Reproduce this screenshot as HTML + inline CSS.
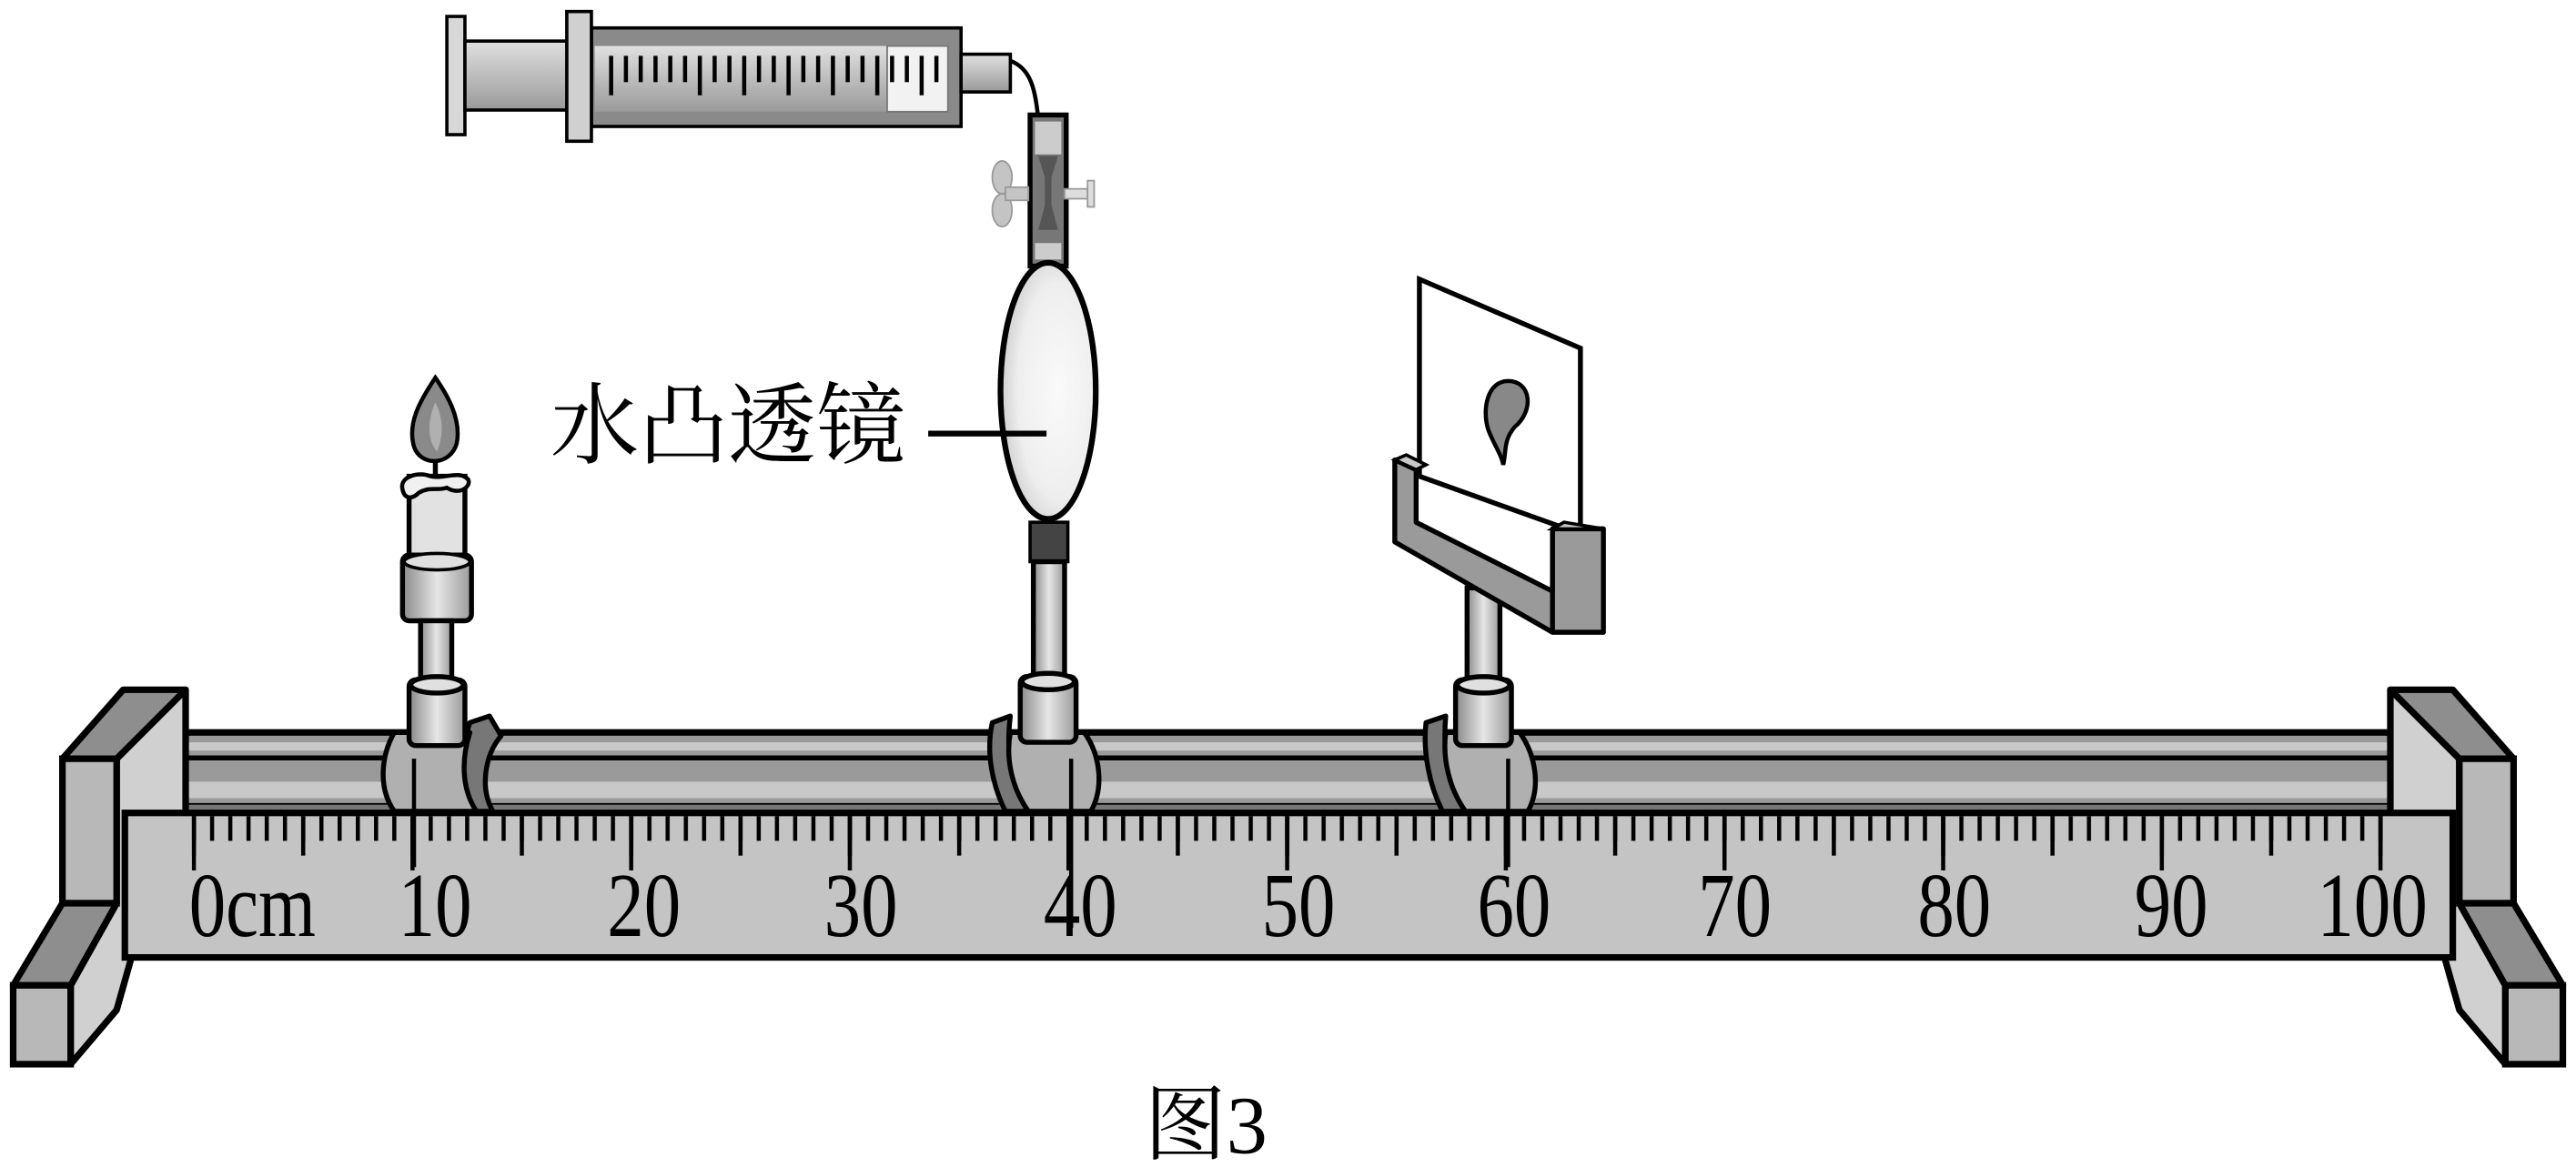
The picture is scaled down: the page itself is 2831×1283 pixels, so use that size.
<!DOCTYPE html>
<html><head><meta charset="utf-8">
<style>
html,body{margin:0;padding:0;background:#fff;}
svg{display:block;}
text{font-family:"Liberation Serif","Noto Serif CJK SC",serif;}
</style></head>
<body>
<svg width="2831" height="1283" viewBox="0 0 1568 710.6" xmlns="http://www.w3.org/2000/svg">
<defs>
<linearGradient id="vg" x1="0" y1="0" x2="0" y2="1">
<stop offset="0" stop-color="#e0e0e0"/><stop offset="1" stop-color="#9a9a9a"/></linearGradient>
<linearGradient id="hg" x1="0" y1="0" x2="1" y2="0">
<stop offset="0" stop-color="#8a8a8a"/><stop offset="0.5" stop-color="#e6e6e6"/><stop offset="1" stop-color="#9a9a9a"/></linearGradient>
<radialGradient id="lens" cx="0.6" cy="0.5" r="0.6">
<stop offset="0" stop-color="#fafafa"/><stop offset="0.7" stop-color="#eeeeee"/><stop offset="1" stop-color="#cfcfcf"/></radialGradient>
<pattern id="pS" x="116.75" y="0" width="11.0917" height="710" patternUnits="userSpaceOnUse">
<rect x="0" y="0" width="2.5" height="710" fill="#000"/></pattern>
<pattern id="pM" x="116.75" y="0" width="66.55" height="710" patternUnits="userSpaceOnUse">
<rect x="0" y="0" width="2.5" height="710" fill="#000"/></pattern>
<pattern id="pL" x="116.75" y="0" width="133.1" height="710" patternUnits="userSpaceOnUse">
<rect x="0" y="0" width="2.5" height="710" fill="#000"/></pattern>
<g id="frame">
<polygon points="1455,420 1497,462 1497,550 1525,600 1525,648 1497,615 1488,583 1455,540" fill="#d0d0d0" stroke="#000" stroke-width="4" stroke-linejoin="round"/>
<polygon points="1455,420 1493,420 1530,462 1497,462" fill="#8e8e8e" stroke="#000" stroke-width="4" stroke-linejoin="round"/>
<rect x="1497" y="462" width="33" height="88" fill="#b8b8b8" stroke="#000" stroke-width="4"/>
<polygon points="1497,550 1530,550 1560,600 1525,600" fill="#8e8e8e" stroke="#000" stroke-width="4" stroke-linejoin="round"/>
<rect x="1525" y="600" width="35" height="48" fill="#b8b8b8" stroke="#000" stroke-width="4"/>
</g>
</defs>

<!-- syringe -->
<rect x="272" y="10" width="11" height="72" fill="#d8d8d8" stroke="#000" stroke-width="2"/>
<rect x="283" y="25" width="64" height="42" fill="url(#vg)" stroke="#000" stroke-width="2"/>
<rect x="360" y="17" width="225" height="60" fill="#8a8a8a" stroke="#000" stroke-width="2"/>
<rect x="362" y="28" width="215" height="40" fill="url(#vg)"/>
<rect x="540" y="28" width="37" height="40" fill="#f2f2f2" stroke="#777" stroke-width="1"/>
<rect x="345" y="7" width="15" height="79" fill="#d0d0d0" stroke="#000" stroke-width="2"/>
<g stroke="#000" stroke-width="2.5">
<line x1="372" y1="34" x2="372" y2="58"/><line x1="390" y1="34" x2="390" y2="50"/><line x1="408" y1="34" x2="408" y2="50"/><line x1="426" y1="34" x2="426" y2="58"/><line x1="444" y1="34" x2="444" y2="50"/><line x1="462" y1="34" x2="462" y2="50"/><line x1="480" y1="34" x2="480" y2="58"/><line x1="498" y1="34" x2="498" y2="50"/><line x1="516" y1="34" x2="516" y2="50"/><line x1="534" y1="34" x2="534" y2="58"/><line x1="552" y1="34" x2="552" y2="50"/><line x1="570" y1="34" x2="570" y2="50"/>
<line x1="381" y1="34" x2="381" y2="50"/><line x1="399" y1="34" x2="399" y2="50"/><line x1="417" y1="34" x2="417" y2="50"/><line x1="435" y1="34" x2="435" y2="50"/><line x1="453" y1="34" x2="453" y2="58"/><line x1="471" y1="34" x2="471" y2="50"/><line x1="489" y1="34" x2="489" y2="50"/><line x1="507" y1="34" x2="507" y2="58"/><line x1="525" y1="34" x2="525" y2="50"/><line x1="543" y1="34" x2="543" y2="50"/><line x1="561" y1="34" x2="561" y2="58"/>
</g>
<rect x="585" y="33" width="30" height="23" fill="url(#vg)" stroke="#000" stroke-width="2"/>
<path d="M615,37 C628,42 630,55 632,72" fill="none" stroke="#000" stroke-width="2.5"/>
<!-- clamp tube -->
<rect x="627" y="70" width="22" height="92" fill="#777" stroke="#000" stroke-width="3"/>
<rect x="630" y="74" width="16" height="20" fill="#ccc"/>
<rect x="630" y="148" width="16" height="10" fill="#ccc"/>
<polygon points="632,95 644,95 640,108 640,125 644,140 632,140 636,125 636,108" fill="#555"/>
<ellipse cx="610" cy="108" rx="6" ry="10" fill="#c4c4c4" stroke="#999"/>
<ellipse cx="610" cy="128" rx="6" ry="10" fill="#c4c4c4" stroke="#999"/>
<rect x="612" y="114" width="14" height="8" fill="#c4c4c4" stroke="#999"/>
<rect x="648" y="115" width="14" height="6" fill="#ddd" stroke="#999"/>
<rect x="662" y="110" width="4" height="16" fill="#ddd" stroke="#999"/>
<!-- lens -->
<ellipse cx="638" cy="238" rx="29" ry="78" fill="url(#lens)" stroke="#000" stroke-width="3.5"/>
<rect x="627" y="318" width="23" height="24" fill="#444" stroke="#000" stroke-width="2"/>
<rect x="629" y="342" width="19" height="73" fill="url(#hg)" stroke="#000" stroke-width="3"/>
<!-- label -->
<text x="335" y="278" font-size="54">水凸透镜</text>
<line x1="565" y1="264" x2="637" y2="264" stroke="#000" stroke-width="3.5"/>

<!-- candle -->
<path d="M265,230 C255,245 248,258 252,272 C256,284 274,284 278,270 C281,255 272,240 265,230 Z" fill="#8a8a8a" stroke="#000" stroke-width="2.5"/>
<path d="M265,245 C260,256 260,268 266,275 C270,265 270,255 265,245Z" fill="#b0b0b0"/>
<line x1="265" y1="280" x2="265" y2="290" stroke="#000" stroke-width="3"/>
<rect x="249" y="290" width="34" height="50" fill="#e2e2e2" stroke="#000" stroke-width="3"/>
<path d="M245,298 C243,290 255,287 262,290 C270,292 280,286 285,292 C287,296 280,302 272,297 C266,299 262,296 255,300 C250,305 246,303 245,298Z" fill="#f0f0f0" stroke="#000" stroke-width="2.5"/>
<rect x="245" y="338" width="42" height="40" rx="4" fill="url(#hg)" stroke="#000" stroke-width="3"/>
<ellipse cx="266" cy="342" rx="20" ry="5" fill="#e0e0e0" stroke="#000" stroke-width="2"/>
<rect x="256" y="378" width="19" height="38" fill="url(#hg)" stroke="#000" stroke-width="3"/>

<!-- screen -->
<polygon points="864,170 962,212 962,325 864,290" fill="#fff" stroke="#000" stroke-width="3"/>
<path d="M918,232 C905,232 902,250 906,262 C910,272 914,277 915,283 C917,275 915,268 922,260 C934,250 932,232 918,232Z" fill="#888" stroke="#000" stroke-width="2.5"/>
<rect x="893" y="358" width="20" height="58" fill="url(#hg)" stroke="#000" stroke-width="3"/>
<polygon points="849,280 862,286 862,318 945,360 945,322 976,322 976,385 945,385 849,330" fill="#9a9a9a" stroke="#000" stroke-width="3" stroke-linejoin="round"/>
<polygon points="849,280 856,277 868,283 862,286" fill="#c8c8c8" stroke="#000" stroke-width="2"/>
<polygon points="945,322 952,318 976,322" fill="#c8c8c8" stroke="#000" stroke-width="2"/>
<line x1="945" y1="322" x2="945" y2="385" stroke="#000" stroke-width="3"/>

<!-- rails -->
<rect x="76" y="444" width="1417" height="52" fill="#000"/>
<rect x="100" y="448" width="1360" height="12" rx="6" fill="#9a9a9a"/>
<rect x="100" y="452" width="1360" height="5" fill="#c8c8c8"/>
<rect x="82" y="463" width="1408" height="26" rx="13" fill="#9a9a9a"/>
<rect x="88" y="476" width="1396" height="10" fill="#c8c8c8"/>
<rect x="76" y="490" width="1417" height="4" fill="#777"/>

<!-- carriages -->
<g stroke="#000" stroke-width="3" stroke-linejoin="round">
<path d="M286,440 L298,436 L305,448 C295,460 292,480 300,494 L286,494 C280,478 280,458 286,440Z" fill="#777"/>
<path d="M240,446 L286,446 C280,465 282,482 290,494 L240,494 C230,480 232,460 240,446Z" fill="#b0b0b0"/>
<path d="M604,440 L615,436 C612,460 616,480 626,494 L612,494 C604,478 600,458 604,440Z" fill="#777"/>
<path d="M615,446 L660,446 C670,460 672,480 664,494 L626,494 C616,480 612,462 615,446Z" fill="#b0b0b0"/>
<path d="M868,440 L880,436 C878,460 882,480 892,494 L878,494 C870,478 866,458 868,440Z" fill="#777"/>
<path d="M880,446 L925,446 C935,460 938,480 930,494 L892,494 C882,480 878,462 880,446Z" fill="#b0b0b0"/>
</g>
<g stroke="#000" stroke-width="3">
<rect x="249" y="414" width="34" height="40" rx="4" fill="url(#hg)"/>
<ellipse cx="266" cy="417" rx="16" ry="5" fill="#e0e0e0"/>
<rect x="621" y="412" width="34" height="40" rx="4" fill="url(#hg)"/>
<ellipse cx="638" cy="415" rx="16" ry="5" fill="#e0e0e0"/>
<rect x="886" y="414" width="34" height="40" rx="4" fill="url(#hg)"/>
<ellipse cx="903" cy="417" rx="16" ry="5" fill="#e0e0e0"/>
</g>

<!-- frames -->
<use href="#frame"/>
<use href="#frame" transform="translate(1568,0) scale(-1,1)"/>

<!-- ruler -->
<rect x="76" y="495" width="1417" height="88" fill="#c4c4c4" stroke="#000" stroke-width="4"/>
<rect x="116.75" y="497" width="1335" height="15" fill="url(#pS)"/>
<rect x="116.75" y="497" width="1335" height="24" fill="url(#pM)"/>
<rect x="116.75" y="497" width="1335" height="33" fill="url(#pL)"/>
<g font-size="56" fill="#000" text-anchor="middle" transform="scale(0.8,1)">
<text x="192" y="570">0cm</text>
<text x="331" y="570">10</text>
<text x="490" y="570">20</text>
<text x="655" y="570">30</text>
<text x="822" y="570">40</text>
<text x="988" y="570">50</text>
<text x="1152" y="570">60</text>
<text x="1320" y="570">70</text>
<text x="1487" y="570">80</text>
<text x="1652" y="570">90</text>
<text x="1805" y="570">100</text>
</g>
<!-- pointer lines from carriages -->
<g stroke="#000" stroke-width="2.5">
<line x1="252" y1="462" x2="252" y2="528"/>
<line x1="652" y1="462" x2="652" y2="565"/>
<line x1="918" y1="462" x2="918" y2="528"/>
</g>

<text x="734" y="702" font-size="50" text-anchor="middle">图3</text>
</svg>
</body></html>
